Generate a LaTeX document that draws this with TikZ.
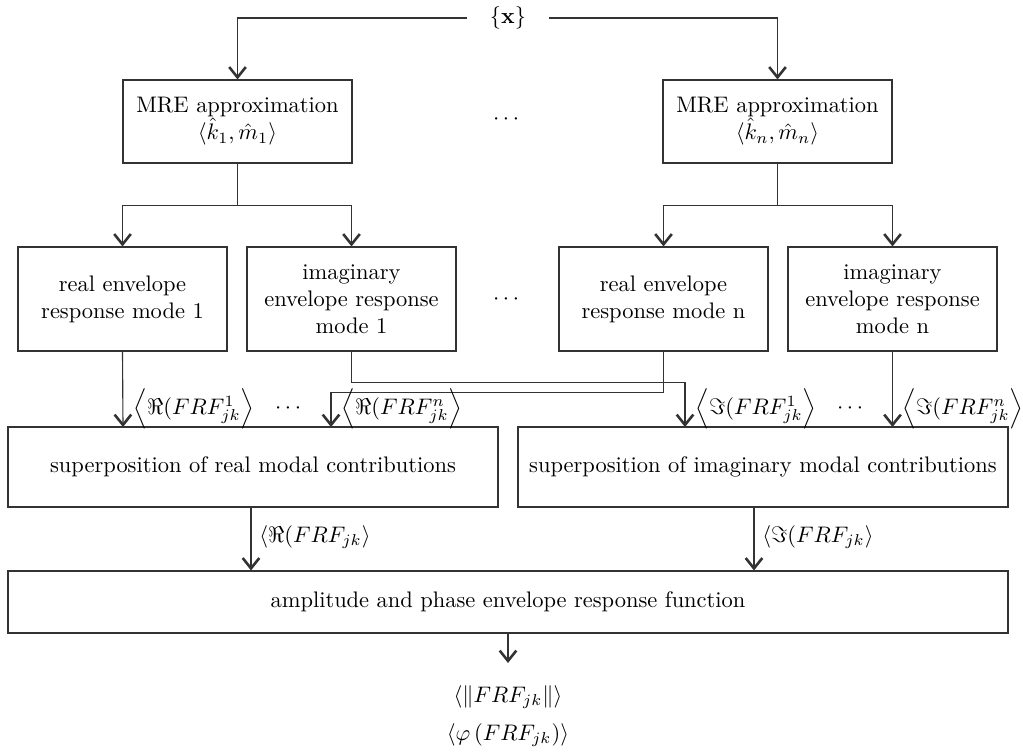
\documentclass[tikz,border=0pt]{standalone}
\usepackage{amsmath,amssymb}
\usetikzlibrary{arrows.meta}
\begin{document}
\begin{tikzpicture}[x=0.445pt,y=-0.445pt,
  line/.style={draw=black!80, line width=0.5pt},
  arr/.style={line, -{Straight Barb[length=4.6pt,width=7.4pt,line width=1.15pt]}},
  box/.style 2 args={draw=black!80, line width=0.5pt, align=center, inner sep=0pt,
    minimum width=#1*0.445pt, minimum height=#2*0.445pt},
  lab/.style={anchor=west, inner sep=0pt},
  txt/.style={inner sep=0pt}]
\useasboundingbox (0,0) rectangle (1023,754);

% input
\node[txt, minimum width=82*0.445pt] (x) at (508,18) {$\{\mathbf{x}\}$};

% modal parameter approximation
\node[box={229}{83}] (mre1) at (237.5,121.5) {MRE approximation\\$\langle\hat{k}_1,\hat{m}_1\rangle$};
\node[box={229}{83}] (mren) at (777.5,121.5) {MRE approximation\\$\langle\hat{k}_n,\hat{m}_n\rangle$};
\node[txt] (dots1) at (508,120) {$\cdots$};

% envelope responses per mode
\node[box={209}{104}] (re1) at (122.5,299) {real envelope\\response mode 1};
\node[box={209}{104}] (im1) at (351.5,299) {imaginary\\envelope response\\mode 1};
\node[box={209}{104}] (ren) at (663.5,299) {real envelope\\response mode n};
\node[box={209}{104}] (imn) at (892.5,299) {imaginary\\envelope response\\mode n};
\node[txt] (dots2) at (508,300) {$\cdots$};

% superposition
\node[box={490}{80}] (supL) at (253,467) {superposition of real modal contributions};
\node[box={490}{80}] (supR) at (763,467) {superposition of imaginary modal contributions};

% final envelope response function
\node[box={1000}{62}] (env) at (508,602) {amplitude and phase envelope response function};
\node[txt] (amp) at (508,697) {$\left\langle\left\|FRF_{jk}\right\|\right\rangle$};
\node[txt] (pha) at (508,735) {$\left\langle\varphi\left(FRF_{jk}\right)\right\rangle$};
\coordinate (out) at (508,663);

% entry points on the superposition boxes
\coordinate (inL1) at (123,427);
\coordinate (inLn) at (331,427);
\coordinate (inR1) at (685,427);
\coordinate (inRn) at (892.5,427);

% connectors
\draw[arr] (x.west) -| (mre1.north);
\draw[arr] (x.east) -| (mren.north);

\draw[line] (mre1.south) -- ++(0,42) coordinate (j1);
\draw[arr] (j1) -| (re1.north);
\draw[arr] (j1) -| (im1.north);
\draw[line] (mren.south) -- ++(0,42) coordinate (jn);
\draw[arr] (jn) -| (ren.north);
\draw[arr] (jn) -| (imn.north);

\draw[arr] (re1.south) -- (inL1);
\draw[arr] (im1.south) -- ++(0,31) -| (inR1);
\draw[arr] (ren.south) -- ++(0,41) -| (inLn);
\draw[arr] (imn.south) -- (inRn);

\draw[arr] (supL.south -| 251,0) -- (env.north -| 251,0);
\draw[arr] (supR.south -| 754,0) -- (env.north -| 754,0);
\draw[arr] (env.south) -- (out);

% contribution labels
\node[lab] (lRe1) at (133,409) {$\left\langle\Re(FRF_{jk}^{1}\right\rangle$};
\node[txt] (lRed) at (290,409) {$\cdots$};
\node[lab] (lRen) at (341,409) {$\left\langle\Re(FRF_{jk}^{n}\right\rangle$};
\node[lab] (lIm1) at (695,409) {$\left\langle\Im(FRF_{jk}^{1}\right\rangle$};
\node[txt] (lImd) at (852,409) {$\cdots$};
\node[lab] (lImn) at (902,409) {$\left\langle\Im(FRF_{jk}^{n}\right\rangle$};

\node[lab] (lRe) at (259,537) {$\langle\Re(FRF_{jk}\rangle$};
\node[lab] (lIm) at (762,537) {$\langle\Im(FRF_{jk}\rangle$};
\end{tikzpicture}
\end{document}
